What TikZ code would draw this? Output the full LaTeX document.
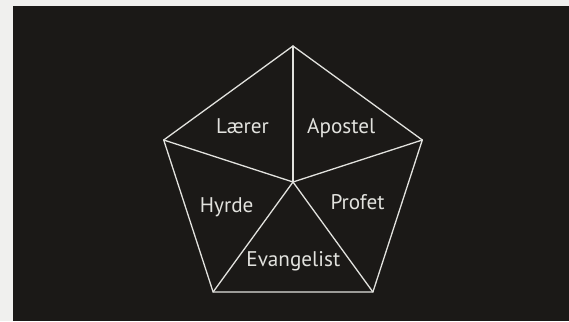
\documentclass[tikz,border=0pt]{standalone}
\usepackage{fontspec}
\setsansfont{PT Sans}
\usetikzlibrary{calc}
\definecolor{scanbg}{RGB}{27,25,23}
\definecolor{scanpaper}{RGB}{240,240,238}
\definecolor{chalk}{RGB}{226,226,222}

\begin{document}
\begin{tikzpicture}[x=1pt, y=-1pt, line width=1.3pt, line cap=round, line join=round,
    rib/.style={draw=chalk},
    role/.style={anchor=base, inner sep=0pt, text=chalk,
      font=\fontsize{21.2}{25}\selectfont\sffamily}]

  %% ════ 底：扫描留白 + 黑底 ════
  \fill[scanpaper] (0,0) rectangle (569,321);
  \fill[scanbg] (13,6) rectangle (569,321);

  %% ════ 五边形顶点（正五边形，中心 (293,182)，R = 136）════
  \coordinate (mid) at (293,182);
  \coordinate (top) at (293,46);
  \coordinate (rt)  at (422.3,140.0);
  \coordinate (rb)  at (372.9,292.0);
  \coordinate (lb)  at (213.1,292.0);
  \coordinate (lt)  at (163.7,140.0);

  %% ════ 外框 ════
  \draw[rib] (top) -- (rt) -- (rb) -- (lb) -- (lt) -- cycle;

  %% ════ 辐条 ════
  \foreach \v in {top, rt, rb, lb, lt}
    \draw[rib] (mid) -- (\v);

  %% ════ 标签 ════
  \node[role] (laerer)  at (242.5,133.3) {Lærer};
  \node[role] (apostel) at (341.2,133.3) {Apostel};
  \node[role] (hyrde)   at (226.7,212.0) {Hyrde};
  \node[role] (profet)  at (357.5,209.0) {Profet};
  \node[role] (evang)   at (293.3,266.7) {Evangelist};

  \pgfresetboundingbox
  \path[use as bounding box] (0,0) rectangle (569,321);
\end{tikzpicture}
\end{document}
